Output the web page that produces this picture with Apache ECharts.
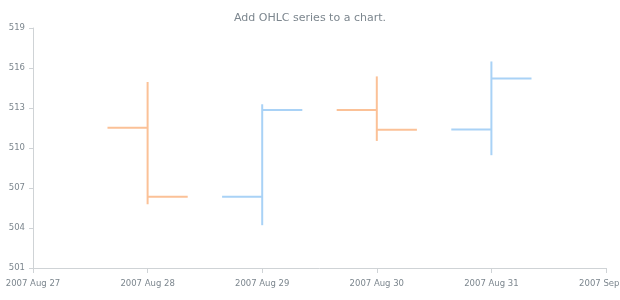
<!DOCTYPE html>
<html>
<head>
<meta charset="utf-8">
<script src="https://cdn.jsdelivr.net/npm/echarts@6/dist/echarts.min.js"></script>
<style>html,body{margin:0;padding:0;background:#fff}#c{width:620px;height:300px}</style>
</head>
<body>
<div id="c"></div>
<script>
const dates = ['2007-08-28', '2007-08-29', '2007-08-30', '2007-08-31'];
const openVals  = [511.51, 506.34, 512.85, 511.38];
const highVals  = [514.95, 513.28, 515.37, 516.49];
const lowVals   = [505.78, 504.21, 510.53, 509.46];
const closeVals = [506.34, 512.85, 511.36, 515.22];
const yTicks = [501, 504, 507, 510, 513, 516, 519];
const monthNames = ['Jan','Feb','Mar','Apr','May','Jun','Jul','Aug','Sep','Oct','Nov','Dec'];

const DAY = 86400000;
function toMs(s){ const p = s.split('-').map(Number); return Date.UTC(p[0], p[1]-1, p[2]); }
const data = dates.map((d,i)=>[toMs(d), openVals[i], highVals[i], lowVals[i], closeVals[i]]);

const chart = echarts.init(document.getElementById('c'));
const font = 'DejaVu Sans';
chart.setOption({
  animation: false,
  title: { text: 'Add OHLC series to a chart.', left: 'center', top: 8,
    textStyle: { fontFamily: font, fontSize: 11, fontWeight: 'normal', color: '#7c868e' } },
  grid: { left: 33, right: 14, top: 28, bottom: 32, containLabel: false, outerBoundsMode: 'none' },
  xAxis: {
    type: 'value', min: toMs('2007-08-27'), max: toMs('2007-09-01'), interval: DAY,
    axisLine: { lineStyle: { color: '#cfd3d6' } },
    axisTick: { length: 5, lineStyle: { color: '#cfd3d6' } },
    splitLine: { show: false },
    axisLabel: { fontFamily: font, fontSize: 8.5, color: '#7c868e', margin: 11, hideOverlap: false,
      formatter: v => { const d = new Date(v); const dd = d.getUTCDate(); return d.getUTCFullYear() + ' ' + monthNames[d.getUTCMonth()] + ' ' + (dd < 10 ? '0' + dd : dd); } }
  },
  yAxis: {
    type: 'value', min: yTicks[0], max: yTicks[yTicks.length-1], interval: 3,
    axisLine: { show: true, lineStyle: { color: '#cfd3d6' } },
    axisTick: { show: true, length: 4, lineStyle: { color: '#cfd3d6' } },
    splitLine: { show: false },
    axisLabel: { fontFamily: font, fontSize: 8.5, color: '#7c868e', margin: 8 }
  },
  series: [{
    type: 'custom',
    data: data,
    encode: { x: 0, y: [1,2,3,4] },
    renderItem: function(params, api){
      const x = api.value(0);
      const o = api.coord([x, api.value(1)]);
      const h = api.coord([x, api.value(2)]);
      const l = api.coord([x, api.value(3)]);
      const c = api.coord([x, api.value(4)]);
      const w = api.size([DAY * 0.35, 0])[0];
      const up = api.value(4) >= api.value(1);
      const color = up ? '#a9d2f6' : '#fbc197';
      const style = { stroke: color, lineWidth: 2 };
      return { type: 'group', children: [
        { type: 'line', shape: { x1: h[0], y1: h[1], x2: l[0], y2: l[1] }, style: style },
        { type: 'line', shape: { x1: o[0] - w, y1: o[1], x2: o[0], y2: o[1] }, style: style },
        { type: 'line', shape: { x1: c[0], y1: c[1], x2: c[0] + w, y2: c[1] }, style: style }
      ]};
    }
  }]
});
</script>
</body>
</html>
